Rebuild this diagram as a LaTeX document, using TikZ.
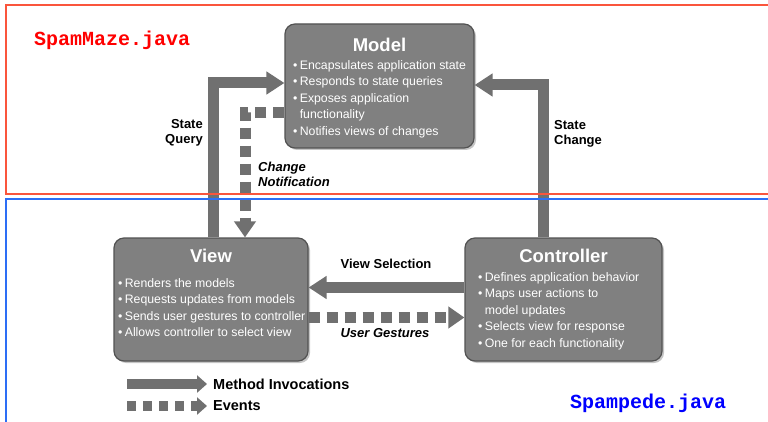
\documentclass[tikz,border=0pt]{standalone}
\usepackage{fontspec}
\setmainfont{Liberation Sans}
\setmonofont{Liberation Mono}
\usepackage{tikz}
\usetikzlibrary{positioning}
\usetikzlibrary{arrows.meta}
\usetikzlibrary{shadows}

\definecolor{boxgray}{RGB}{128,128,128}
\definecolor{boxedge}{RGB}{82,82,82}
\definecolor{arrowgray}{RGB}{112,112,112}
\definecolor{framered}{RGB}{250,85,60}
\definecolor{frameblue}{RGB}{45,110,245}
\definecolor{filered}{RGB}{255,0,0}
\definecolor{fileblue}{RGB}{0,0,255}

\newcommand{\bul}{\textbullet\hspace{2.5pt}}
\newcommand{\mvcbody}[7]{%
  \parbox[c][#2][t]{#1}{\vspace*{#3}\centering
    \fontsize{18.5}{20}\selectfont\bfseries #4\par
    \vspace{#5}\raggedright\leftskip=#6
    \fontsize{12.3}{16.5}\selectfont\mdseries #7\par}}

\begin{document}
\begin{tikzpicture}[
    x=1pt, y=-1pt,
    mvcbox/.style={rectangle, rounded corners=10pt, fill=boxgray, draw=boxedge,
        line width=1.2pt, text=white, inner sep=0pt,
        drop shadow={shadow xshift=2pt, shadow yshift=-2pt, opacity=0.45}},
    bigarrow/.style={-{Triangle[length=18pt, width=22pt]}, line width=11pt, arrowgray},
    dotarrow/.style={-{Triangle[length=16pt, width=21pt]}, line width=11pt, arrowgray,
        dash pattern=on 11pt off 7pt},
    legarrow/.style={-{Triangle[length=10pt, width=17pt]}, line width=9.5pt, arrowgray},
    legdots/.style={legarrow, dash pattern=on 9pt off 7pt},
    flowlabel/.style={font=\fontsize{13}{15}\selectfont\bfseries, inner sep=0pt},
    flowitalic/.style={font=\fontsize{13}{15}\selectfont\bfseries\itshape, inner sep=0pt},
    legendtext/.style={font=\fontsize{14.5}{16}\selectfont\bfseries, inner sep=0pt},
    filename/.style={font=\ttfamily\bfseries\fontsize{20}{22}\selectfont, inner sep=0pt, anchor=west}
    ]
    \clip (0,0) rectangle (768,422);
    \fill[white] (0,0) rectangle (768,422);

    %Nodes
    \node[mvcbox] (model) at (379.5,86) {\mvcbody{189pt}{124pt}{14pt}{Model}{1.5pt}{8pt}{%
        \bul Encapsulates application state\\
        \bul Responds to state queries\\
        \bul Exposes application\\
        \hphantom{\bul}functionality\\
        \bul Notifies views of changes}};
    \node[mvcbox] (view) at (211,299.5) {\mvcbody{194pt}{123pt}{11pt}{View}{8.5pt}{4pt}{%
        \bul Renders the models\\
        \bul Requests updates from models\\
        \bul Sends user gestures to controller\\
        \bul Allows controller to select view}};
    \node[mvcbox] (ctrl) at (563.5,299.5) {\mvcbody{197pt}{123pt}{11pt}{Controller}{2.5pt}{13pt}{%
        \bul Defines application behavior\\
        \bul Maps user actions to\\
        \hphantom{\bul}model updates\\
        \bul Selects view for response\\
        \bul One for each functionality}};

    \node[flowlabel, anchor=east, align=right] (querylbl) at (203,133) {State\\Query};
    \node[flowlabel, anchor=west, align=left] (changelbl) at (554,134) {State\\Change};
    \node[flowitalic, anchor=west, align=left] (notiflbl) at (258,174) {Change\\Notification};
    \node[flowlabel] (sellbl) at (386,264) {View Selection};
    \node[flowitalic] (gestlbl) at (385,333) {User Gestures};

    \node[filename, filered] (mazefile) at (34,40) {SpamMaze.java};
    \node[filename, fileblue] (pedefile) at (570,403) {Spampede.java};

    %Legend
    \coordinate (methA) at (127,384);
    \coordinate (methB) at (207,384);
    \coordinate (evtA) at (127,406);
    \coordinate (evtB) at (207,406);
    \node[legendtext, right=6pt of methB] (methlbl) {Method Invocations};
    \node[legendtext, right=6pt of evtB] (evtlbl) {Events};

    %Lines
    \draw[bigarrow] ([xshift=2pt]view.north) |- ([yshift=3pt]model.west);
    \draw[bigarrow] ([xshift=-20.5pt]ctrl.north) |- ([yshift=1pt]model.east);
    \draw[dotarrow] ([yshift=-27pt]model.west) -| ([xshift=34pt]view.north);
    \draw[bigarrow] ([yshift=12pt]ctrl.west) -- ([yshift=12pt]view.east);
    \draw[dotarrow] ([yshift=-18pt]view.east) -- ([yshift=-18pt]ctrl.west);

    \draw[legarrow] (methA) -- (methB);
    \draw[legdots] (evtA) -- (evtB);

    %Frames
    \draw[framered, line width=1.3pt] (6,5) rectangle (790,194);
    \draw[frameblue, line width=1.3pt] (6,199) rectangle (790,440);

\end{tikzpicture}
\end{document}
